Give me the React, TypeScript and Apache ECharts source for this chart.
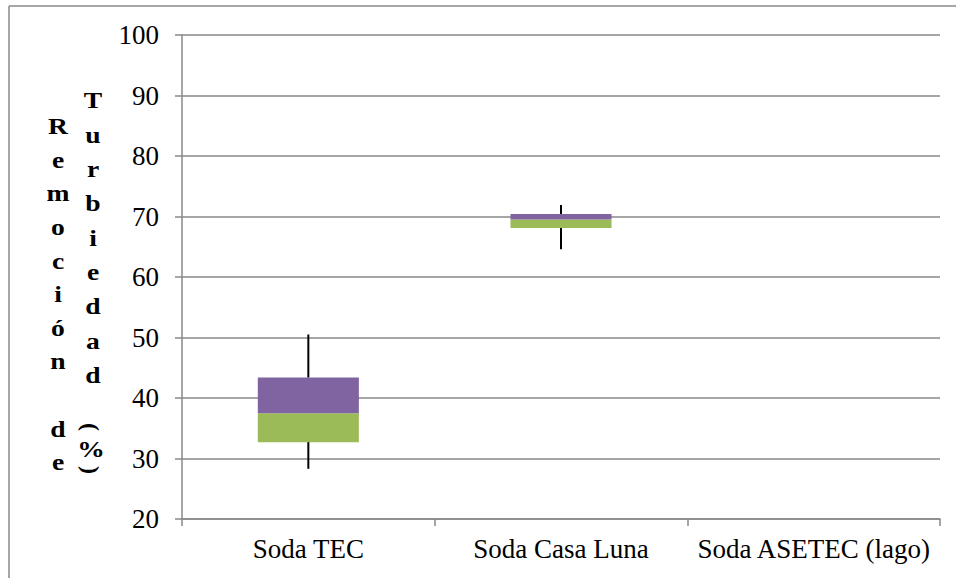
import React, { useEffect, useRef } from "react";
import * as echarts from "echarts";

const categories = ["Soda TEC", "Soda Casa Luna", "Soda ASETEC (lago)"];
const minValues = [28.3, 64.6, null];
const q1Values = [32.7, 68.1, null];
const medianValues = [37.5, 69.5, null];
const q3Values = [43.4, 70.4, null];
const maxValues = [50.5, 71.9, null];
const yTicks = { min: 20, max: 100, interval: 10 };

const titleCol1 = ["R", "e", "m", "o", "c", "i", "ó", "n", "", "d", "e"];
const titleCol2 = ["T", "u", "r", "b", "i", "e", "d", "a", "d"];

const FONT = "Liberation Serif";
const GRAY = "#898989";

export default function App() {
  const ref = useRef<HTMLDivElement>(null);
  useEffect(() => {
    if (!ref.current) return;
    const chart = echarts.init(ref.current, undefined, { renderer: "svg" });

    const base = q1Values.map((v) => (v == null ? null : v));
    const lower = q1Values.map((v, i) =>
      v == null || medianValues[i] == null ? null : +((medianValues[i] as number) - v).toFixed(3)
    );
    const upper = medianValues.map((v, i) =>
      v == null || q3Values[i] == null ? null : +((q3Values[i] as number) - v).toFixed(3)
    );
    const whiskers = categories
      .map((_, i) => [i, minValues[i], q1Values[i], q3Values[i], maxValues[i]])
      .filter((d) => d[1] != null);

    const titleStyle = {
      fontSize: 24,
      fontWeight: "bold",
      fontFamily: FONT,
      fill: "#000",
      align: "center",
    };

    const option: any = {
      animation: false,
      backgroundColor: "#fff",
      textStyle: { fontFamily: FONT },
      grid: { left: 182, right: 16, top: 35, bottom: 59, containLabel: false },
      xAxis: {
        type: "category",
        data: categories,
        axisLine: { lineStyle: { color: GRAY, width: 1.5 } },
        axisTick: { show: true, length: 7, lineStyle: { color: GRAY, width: 1.5 } },
        axisLabel: { color: "#000", fontFamily: FONT, fontSize: 27, margin: 16, interval: 0 },
        splitLine: { show: false },
      },
      yAxis: {
        type: "value",
        min: yTicks.min,
        max: yTicks.max,
        interval: yTicks.interval,
        axisLine: { show: true, lineStyle: { color: GRAY, width: 1.5 } },
        axisTick: { show: true, length: 7, lineStyle: { color: GRAY, width: 1.5 } },
        axisLabel: { color: "#000", fontFamily: FONT, fontSize: 27, margin: 23 },
        splitLine: { show: true, lineStyle: { color: GRAY, width: 1.5 } },
      },
      series: [
        {
          type: "bar",
          stack: "box",
          barWidth: "40%",
          data: base,
          itemStyle: { color: "transparent" },
          silent: true,
        },
        {
          type: "bar",
          stack: "box",
          barWidth: "40%",
          data: lower,
          itemStyle: { color: "#9BBB59" },
        },
        {
          type: "bar",
          stack: "box",
          barWidth: "40%",
          data: upper,
          itemStyle: { color: "#8064A2" },
        },
        {
          type: "custom",
          data: whiskers,
          encode: { x: 0, y: [1, 2, 3, 4] },
          z: 3,
          renderItem: (params: any, api: any) => {
            const x = api.value(0);
            const lo = api.coord([x, api.value(1)]);
            const q1 = api.coord([x, api.value(2)]);
            const q3 = api.coord([x, api.value(3)]);
            const hi = api.coord([x, api.value(4)]);
            const st = { stroke: "#000", lineWidth: 2 };
            return {
              type: "group",
              children: [
                { type: "line", shape: { x1: lo[0], y1: lo[1], x2: q1[0], y2: q1[1] }, style: st },
                { type: "line", shape: { x1: q3[0], y1: q3[1], x2: hi[0], y2: hi[1] }, style: st },
              ],
            };
          },
        },
      ],
      graphic: [
        { type: "line", shape: { x1: 9, y1: 6, x2: 956, y2: 6 }, style: { stroke: GRAY, lineWidth: 1.5 } },
        { type: "line", shape: { x1: 9, y1: 6, x2: 9, y2: 578 }, style: { stroke: GRAY, lineWidth: 1.5 } },
        {
          type: "text",
          x: 58,
          y: 109.6,
          scaleX: 1.15,
          style: { ...titleStyle, text: titleCol1.join("\n"), lineHeight: 33.6, verticalAlign: "top" },
        },
        {
          type: "text",
          x: 93,
          y: 83.4,
          scaleX: 1.15,
          style: { ...titleStyle, text: titleCol2.join("\n"), lineHeight: 34.3, verticalAlign: "top" },
        },
        {
          type: "text",
          x: 91,
          y: 427,
          rotation: -Math.PI / 2,
          style: { ...titleStyle, text: "(", verticalAlign: "middle" },
        },
        {
          type: "text",
          x: 91,
          y: 449,
          scaleX: 1.15,
          style: { ...titleStyle, text: "%", verticalAlign: "middle" },
        },
        {
          type: "text",
          x: 91,
          y: 470,
          rotation: -Math.PI / 2,
          style: { ...titleStyle, text: ")", verticalAlign: "middle" },
        },
      ],
    };
    chart.setOption(option);
    return () => chart.dispose();
  }, []);
  return (
    <div
      ref={ref}
      style={{ position: "absolute", left: 0, top: 0, width: 956, height: 578 }}
    />
  );
}
